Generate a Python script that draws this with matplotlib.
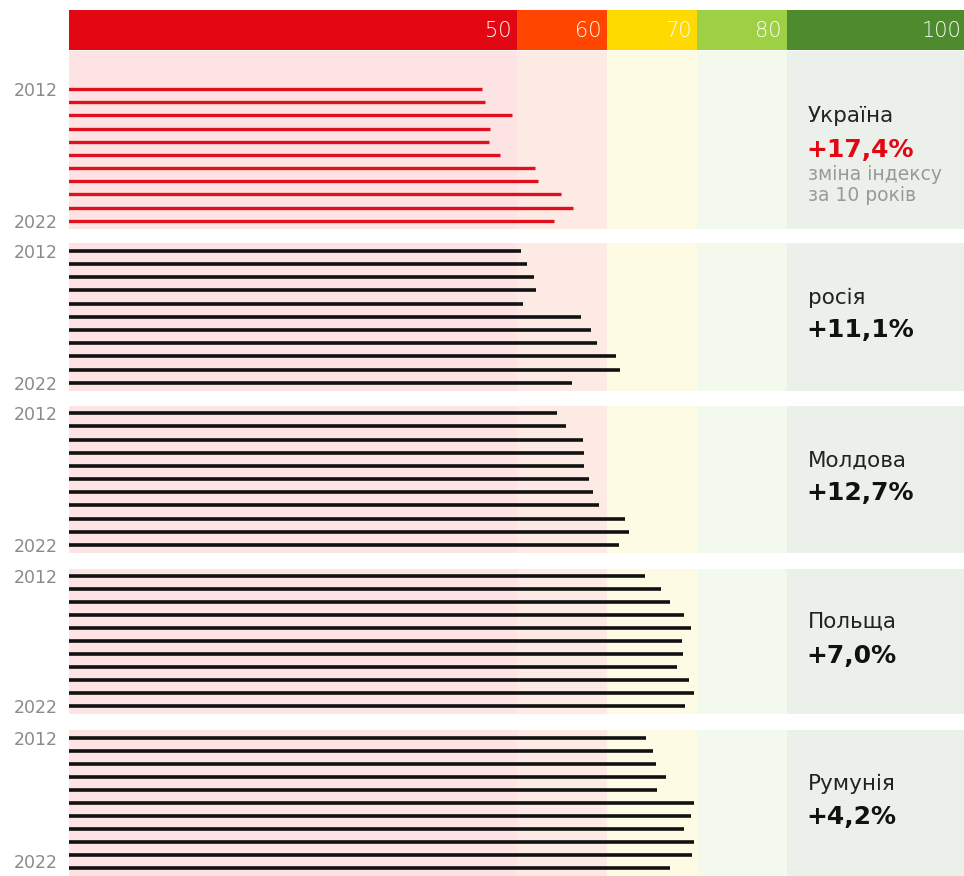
import matplotlib
matplotlib.use("Agg")
import matplotlib.pyplot as plt
import numpy as np

plt.rcParams['font.family'] = ['DejaVu Sans']

W, H = 964, 876

# index zones of the scale
zone_edges = [0, 50, 60, 70, 80, 100]
zone_labels = ['50', '60', '70', '80', '100']
zone_colors = ['#E30613', '#FF4500', '#FFDA00', '#9ED046', '#4E8A2E']
zone_bg = ['#FDE3E3', '#FEEAE5', '#FEFBE5', '#F3F9EC', '#EBF0EA']

years = np.arange(2012, 2023)

countries = ['Україна', 'росія', 'Молдова', 'Польща', 'Румунія']
changes = ['+17,4%', '+11,1%', '+12,7%', '+7,0%', '+4,2%']

ukraine = [46.1, 46.4, 49.4, 47.0, 46.9, 48.1, 52.0, 52.3, 54.9, 56.2, 54.1]
russia = [50.5, 51.1, 51.9, 52.1, 50.7, 57.1, 58.2, 58.9, 61.0, 61.5, 56.1]
moldova = [54.4, 55.5, 57.3, 57.5, 57.4, 58.0, 58.4, 59.1, 62.0, 62.5, 61.3]
poland = [64.2, 66.0, 67.0, 68.6, 69.3, 68.3, 68.5, 67.8, 69.1, 69.7, 68.7]
romania = [64.4, 65.1, 65.5, 66.6, 65.6, 69.7, 69.4, 68.6, 69.7, 69.5, 67.0]
series = [ukraine, russia, moldova, poland, romania]

bar_colors = ['#E0101E', '#111111', '#111111', '#111111', '#111111']

# panel layout in pixels (top, bottom) and padding in rows
panels = [(51, 229, 2.88), (243, 391, 0.6), (406, 553, 0.55), (569, 714, 0.55), (730, 876, 0.6)]
name_y = [116, 298, 461, 622, 784]
pct_y = [150, 330, 493, 656, 817]

X0, X1 = 69, 964
XLIM = (0.2, 99.7)


def fax(top, bottom):
    return fig.add_axes([X0 / W, 1 - bottom / H, (X1 - X0) / W, (bottom - top) / H])


fig = plt.figure(figsize=(W / 100, H / 100), dpi=100)

# header scale
axh = fax(10, 50)
axh.set_xlim(*XLIM)
axh.set_ylim(0, 1)
for i in range(5):
    axh.axvspan(zone_edges[i], zone_edges[i + 1], color=zone_colors[i], lw=0)
    axh.text(zone_edges[i + 1] - 0.6, 0.47, zone_labels[i], ha='right', va='center',
             color='white', fontsize=15, fontweight='light')
axh.axis('off')

for k in range(5):
    top, bottom, pad = panels[k]
    ax = fax(top, bottom)
    ax.set_xlim(*XLIM)
    for i in range(5):
        ax.axvspan(zone_edges[i], zone_edges[i + 1], color=zone_bg[i], lw=0)
    lc = ax.hlines(years, 0, series[k], color=bar_colors[k], lw=2.6 if k else 2.4)
    lc.set_capstyle('butt')
    ax.set_ylim(2022.62, 2012 - pad)
    ax.set_yticks([2012, 2022])
    ax.set_yticklabels(['2012', '2022'])
    ax.tick_params(axis='y', length=0, pad=8, labelsize=12.5, labelcolor='#8A8A8A')
    ax.set_xticks([])
    for s in ax.spines.values():
        s.set_visible(False)
    if k == 4:
        # keep the last year label inside the picture
        ax.get_yticklabels()[1].set_va('baseline')

    fig.text(808 / W, 1 - name_y[k] / H, countries[k], ha='left', va='center',
             fontsize=15.5, color='#222222')
    fig.text(806 / W, 1 - pct_y[k] / H, changes[k], ha='left', va='center',
             fontsize=18, fontweight='heavy', color='#E30613' if k == 0 else '#111111')

fig.text(808 / W, 1 - 175 / H, 'зміна індексу', ha='left', va='center', fontsize=13.5, color='#999999')
fig.text(808 / W, 1 - 196 / H, 'за 10 років', ha='left', va='center', fontsize=13.5, color='#999999')

fig.savefig('out.png', dpi=100)
